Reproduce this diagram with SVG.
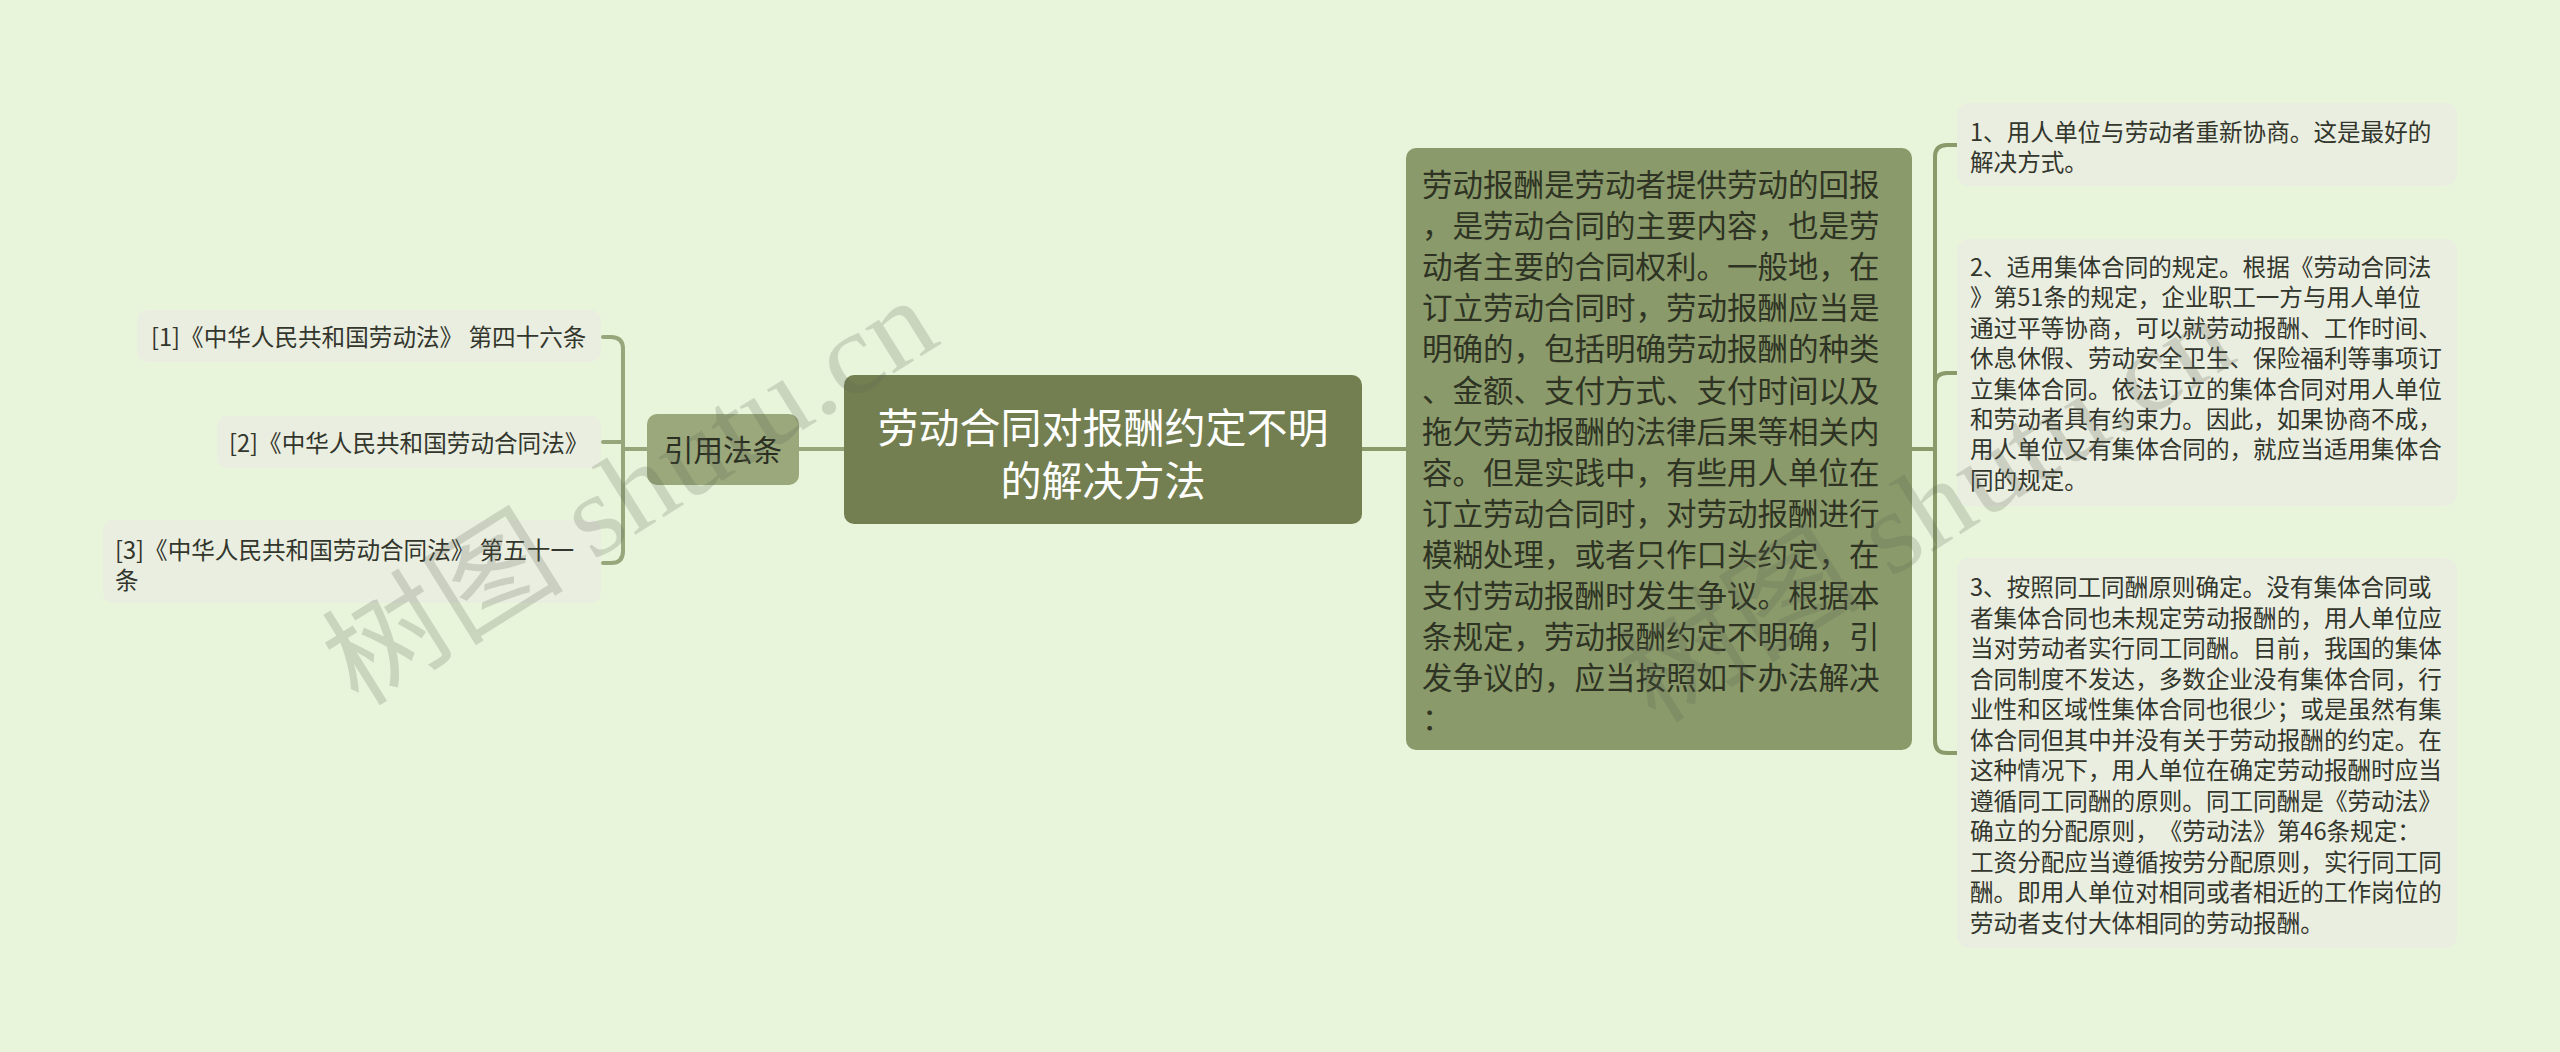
<svg xmlns="http://www.w3.org/2000/svg" width="2560" height="1052" viewBox="0 0 2560 1052">
<defs>
<style>
.bg{fill:#e8f5db}
.root{fill:#737f50}
.sub{fill:#8a9a6a}
.cite{fill:#9aa87b}
.leaf{fill:#eaeee1}
.conR{fill:none;stroke:#8a9a6a;stroke-width:4;stroke-linecap:round}
.conL{fill:none;stroke:#98a67b;stroke-width:4;stroke-linecap:round}
text{font-family:"Noto Sans CJK SC","Liberation Sans",sans-serif;font-feature-settings:"chws" 0;text-spacing-trim:space-all}
.tRoot{font-size:41px;fill:#ffffff;text-anchor:middle}
.tCite{font-size:29.5px;fill:#2b2f22;text-anchor:middle}
.tSub{font-size:30.5px;fill:#2e3323}
.tLeaf{font-size:23.6px;fill:#33362c}
.wm{font-family:"Liberation Serif","Noto Sans CJK SC",serif;font-size:116px;fill:#5f6658;fill-opacity:0.22}
</style>
</defs>
<rect class="bg" x="0" y="0" width="2560" height="1052"/>

<g id="connectors">
<path class="conL" d="M647,449 H623"/>
<path class="conL" d="M623,449 V349 Q623,337 611,337 H603"/>
<path class="conL" d="M623,449 V442 H603"/>
<path class="conL" d="M623,449 V551 Q623,563 611,563 H603"/>
<path class="conL" d="M799,449 H844"/>
<path class="conR" d="M1362,449 H1406"/>
<path class="conR" d="M1912,449 H1935"/>
<path class="conR" d="M1935,449 V157 Q1935,145 1947,145 H1957"/>
<path class="conR" d="M1935,449 V385 Q1935,373 1947,373 H1957"/>
<path class="conR" d="M1935,449 V741 Q1935,753 1947,753 H1957"/>
</g>

<g id="root">
<rect class="root" x="844" y="375" width="518" height="149" rx="10"/>
<text class="tRoot" x="1103" y="443">劳动合同对报酬约定不明</text>
<text class="tRoot" x="1103" y="496">的解决方法</text>
</g>

<g id="cite">
<rect class="cite" x="647" y="414" width="152" height="71" rx="10"/>
<text class="tCite" x="723" y="461">引用法条</text>
</g>

<g id="cite1">
<rect class="leaf" x="137" y="310" width="464" height="52" rx="10"/>
<text class="tLeaf" x="151" y="346">[1]《中华人民共和国劳动法》 第四十六条</text>
</g>
<g id="cite2">
<rect class="leaf" x="217" y="416" width="384" height="52" rx="10"/>
<text class="tLeaf" x="229" y="452">[2]《中华人民共和国劳动合同法》</text>
</g>
<g id="cite3">
<rect class="leaf" x="103" y="520" width="498" height="83" rx="10"/>
<text class="tLeaf" x="115" y="559">[3]《中华人民共和国劳动合同法》 第五十一</text>
<text class="tLeaf" x="115" y="589">条</text>
</g>

<g id="detail">
<rect class="sub" x="1406" y="148" width="506" height="602" rx="10"/>
<text class="tSub" x="1422">
<tspan x="1422" y="196">劳动报酬是劳动者提供劳动的回报</tspan>
<tspan x="1422" y="237.1">，是劳动合同的主要内容，也是劳</tspan>
<tspan x="1422" y="278.2">动者主要的合同权利。一般地，在</tspan>
<tspan x="1422" y="319.3">订立劳动合同时，劳动报酬应当是</tspan>
<tspan x="1422" y="360.4">明确的，包括明确劳动报酬的种类</tspan>
<tspan x="1422" y="401.5">、金额、支付方式、支付时间以及</tspan>
<tspan x="1422" y="442.6">拖欠劳动报酬的法律后果等相关内</tspan>
<tspan x="1422" y="483.7">容。但是实践中，有些用人单位在</tspan>
<tspan x="1422" y="524.8">订立劳动合同时，对劳动报酬进行</tspan>
<tspan x="1422" y="565.9">模糊处理，或者只作口头约定，在</tspan>
<tspan x="1422" y="607">支付劳动报酬时发生争议。根据本</tspan>
<tspan x="1422" y="648.1">条规定，劳动报酬约定不明确，引</tspan>
<tspan x="1422" y="689.2">发争议的，应当按照如下办法解决</tspan>
<tspan x="1422" y="730.3">：</tspan>
</text>
</g>

<g id="way1">
<rect class="leaf" x="1957" y="103" width="500" height="83" rx="12"/>
<text class="tLeaf">
<tspan x="1970" y="141">1、用人单位与劳动者重新协商。这是最好的</tspan>
<tspan x="1970" y="171.4">解决方式。</tspan>
</text>
</g>

<g id="way2">
<rect class="leaf" x="1957" y="239" width="500" height="267" rx="12"/>
<text class="tLeaf">
<tspan x="1970" y="276">2、适用集体合同的规定。根据《劳动合同法</tspan>
<tspan x="1970" y="306.4">》第51条的规定，企业职工一方与用人单位</tspan>
<tspan x="1970" y="336.8">通过平等协商，可以就劳动报酬、工作时间、</tspan>
<tspan x="1970" y="367.2">休息休假、劳动安全卫生、保险福利等事项订</tspan>
<tspan x="1970" y="397.6">立集体合同。依法订立的集体合同对用人单位</tspan>
<tspan x="1970" y="428">和劳动者具有约束力。因此，如果协商不成，</tspan>
<tspan x="1970" y="458.4">用人单位又有集体合同的，就应当适用集体合</tspan>
<tspan x="1970" y="488.8">同的规定。</tspan>
</text>
</g>

<g id="way3">
<rect class="leaf" x="1957" y="558" width="500" height="390" rx="12"/>
<text class="tLeaf">
<tspan x="1970" y="596">3、按照同工同酬原则确定。没有集体合同或</tspan>
<tspan x="1970" y="626.5">者集体合同也未规定劳动报酬的，用人单位应</tspan>
<tspan x="1970" y="657">当对劳动者实行同工同酬。目前，我国的集体</tspan>
<tspan x="1970" y="687.5">合同制度不发达，多数企业没有集体合同，行</tspan>
<tspan x="1970" y="718">业性和区域性集体合同也很少；或是虽然有集</tspan>
<tspan x="1970" y="748.5">体合同但其中并没有关于劳动报酬的约定。在</tspan>
<tspan x="1970" y="779">这种情况下，用人单位在确定劳动报酬时应当</tspan>
<tspan x="1970" y="809.5">遵循同工同酬的原则。同工同酬是《劳动法》</tspan>
<tspan x="1970" y="840">确立的分配原则，《劳动法》第46条规定：</tspan>
<tspan x="1970" y="870.5">工资分配应当遵循按劳分配原则，实行同工同</tspan>
<tspan x="1970" y="901">酬。即用人单位对相同或者相近的工作岗位的</tspan>
<tspan x="1970" y="931.5">劳动者支付大体相同的劳动报酬。</tspan>
</text>
</g>

<g id="watermarks">
<text class="wm" x="358" y="708" transform="rotate(-32 358 708)" textLength="690" lengthAdjust="spacingAndGlyphs">树图 shutu.cn</text>
<text class="wm" x="1655" y="725" transform="rotate(-32 1655 725)" textLength="690" lengthAdjust="spacingAndGlyphs">树图 shutu.cn</text>
</g>
</svg>
